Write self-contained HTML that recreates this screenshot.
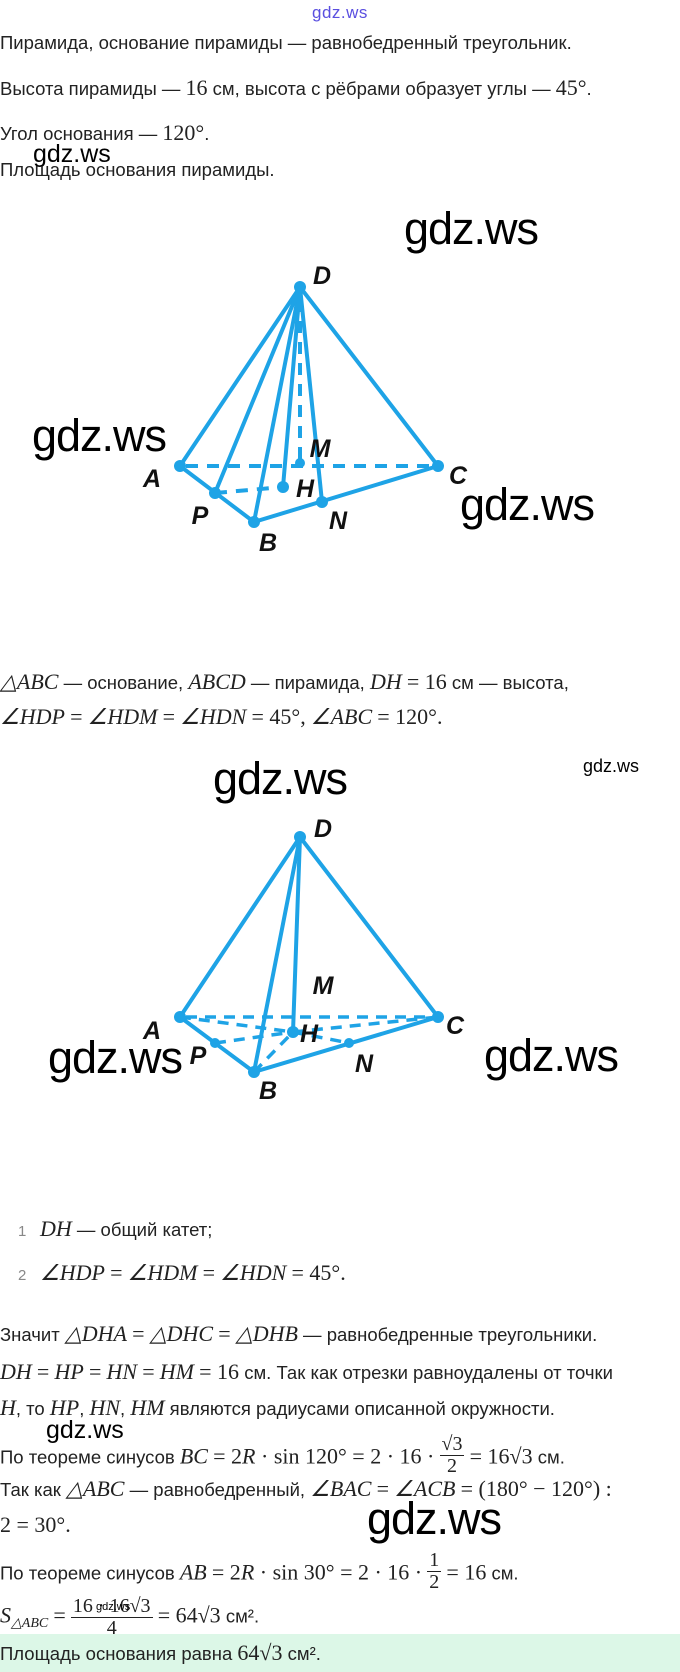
<!DOCTYPE html>
<html><head><meta charset="utf-8">
<style>
html,body{margin:0;padding:0;background:#fff;}
body{width:680px;height:1672px;position:relative;overflow:hidden;font-family:"Liberation Sans","DejaVu Sans",sans-serif;color:#222;}
.t{position:absolute;left:0;font-size:18.5px;line-height:22px;white-space:nowrap;}
.m{font-family:"Liberation Serif",serif;font-style:italic;font-size:22px;}
.r{font-family:"Liberation Serif",serif;font-size:22px;}
.w{position:absolute;font-family:"Liberation Sans",sans-serif;font-size:45px;line-height:50px;color:#000;letter-spacing:-1px;}
.ws{position:absolute;font-family:"Liberation Sans",sans-serif;font-size:18px;line-height:20px;color:#000;}
.fr{display:inline-block;vertical-align:middle;text-align:center;font-family:"Liberation Serif",serif;font-size:20px;line-height:21px;}
.fr span{display:block;}
.fr .n{border-bottom:1px solid #222;padding:0 2px;}
.num{color:#888;font-size:15px;display:inline-block;width:22px;}
</style></head><body>

<div style="position:absolute;left:312px;top:3px;font-size:17px;color:#5a4fe0;letter-spacing:0.5px;">gdz.ws</div>

<div class="t" style="top:32px">Пирамида, основание пирамиды — равнобедренный треугольник.</div>
<div class="t" style="top:77px">Высота пирамиды — <span class="r">16</span> см, высота с рёбрами образует углы — <span class="r">45°</span>.</div>
<div class="t" style="top:122px">Угол основания — <span class="r">120°</span>.</div>
<div class="ws" style="left:33px;top:141px;font-size:25px;line-height:26px;">gdz.ws</div>
<div class="t" style="top:159px">Площадь основания пирамиды.</div>

<div class="w" style="left:404px;top:204px">gdz.ws</div>
<div class="w" style="left:32px;top:411px">gdz.ws</div>
<div class="w" style="left:460px;top:480px">gdz.ws</div>

<svg style="position:absolute;left:0;top:0" width="680" height="1672">
<g stroke="#1ea3e6" stroke-width="4" fill="none" stroke-linecap="round">
<line x1="300" y1="287" x2="180" y2="466"/>
<line x1="300" y1="287" x2="438" y2="466"/>
<line x1="300" y1="287" x2="215" y2="493"/>
<line x1="300" y1="287" x2="254" y2="522"/>
<line x1="300" y1="287" x2="283" y2="487"/>
<line x1="300" y1="287" x2="322" y2="502"/>
<line x1="180" y1="466" x2="254" y2="522"/>
<line x1="254" y1="522" x2="438" y2="466"/>
<g stroke-dasharray="12,9" stroke-linecap="butt">
<line x1="186" y1="466" x2="432" y2="466"/>
<line x1="300" y1="300" x2="300" y2="463"/>
<line x1="215" y1="493" x2="283" y2="487"/>
</g>
<line x1="300" y1="837" x2="180" y2="1017"/>
<line x1="300" y1="837" x2="438" y2="1017"/>
<line x1="300" y1="837" x2="254" y2="1072"/>
<line x1="300" y1="837" x2="293" y2="1032"/>
<line x1="180" y1="1017" x2="254" y2="1072"/>
<line x1="254" y1="1072" x2="438" y2="1017"/>
<g stroke-dasharray="11,8" stroke-linecap="butt" stroke-width="3.5">
<line x1="186" y1="1017" x2="432" y2="1017"/>
<line x1="180" y1="1017" x2="293" y2="1032"/>
<line x1="293" y1="1032" x2="438" y2="1017"/>
<line x1="215" y1="1043" x2="293" y2="1032"/>
<line x1="254" y1="1072" x2="293" y2="1032"/>
<line x1="293" y1="1032" x2="349" y2="1043"/>
</g>
</g>
<g fill="#1ea3e6">
<circle cx="300" cy="287" r="6"/><circle cx="180" cy="466" r="6"/><circle cx="438" cy="466" r="6"/>
<circle cx="215" cy="493" r="6"/><circle cx="254" cy="522" r="6"/><circle cx="322" cy="502" r="6"/>
<circle cx="283" cy="487" r="6"/><circle cx="300" cy="463" r="5"/>
<circle cx="300" cy="837" r="6"/><circle cx="180" cy="1017" r="6"/><circle cx="438" cy="1017" r="6"/>
<circle cx="215" cy="1043" r="5"/><circle cx="254" cy="1072" r="6"/><circle cx="349" cy="1043" r="5"/>
<circle cx="293" cy="1032" r="6"/>
</g>
<g font-family="Liberation Sans,sans-serif" font-style="italic" font-weight="bold" font-size="25" fill="#111" text-anchor="middle">
<text x="322" y="284">D</text><text x="320" y="457">M</text><text x="152" y="487">A</text>
<text x="305" y="497">H</text><text x="458" y="484">C</text><text x="200" y="524">P</text>
<text x="338" y="529">N</text><text x="268" y="551">B</text>
<text x="323" y="837">D</text><text x="323" y="994">M</text><text x="152" y="1039">A</text>
<text x="309" y="1042">H</text><text x="455" y="1034">C</text><text x="198" y="1064">P</text>
<text x="364" y="1072">N</text><text x="268" y="1099">B</text>
</g>
</svg>

<div class="t" style="top:671px"><span class="m">△ABC</span> — основание, <span class="m">ABCD</span> — пирамида, <span class="m">DH</span> <span class="r">= 16</span> см — высота,</div>
<div class="t" style="top:706px"><span class="m">∠HDP</span> <span class="r">=</span> <span class="m">∠HDM</span> <span class="r">=</span> <span class="m">∠HDN</span> <span class="r">= 45°,</span> <span class="m">∠ABC</span> <span class="r">= 120°.</span></div>

<div class="w" style="left:213px;top:754px">gdz.ws</div>
<div class="ws" style="left:583px;top:756px">gdz.ws</div>
<div class="w" style="left:48px;top:1033px">gdz.ws</div>
<div class="w" style="left:484px;top:1031px">gdz.ws</div>

<div class="t" style="top:1218px;left:18px"><span class="num">1</span><span class="m">DH</span> — общий катет;</div>
<div class="t" style="top:1262px;left:18px"><span class="num">2</span><span class="m">∠HDP</span> <span class="r">=</span> <span class="m">∠HDM</span> <span class="r">=</span> <span class="m">∠HDN</span> <span class="r">= 45°.</span></div>

<div class="t" style="top:1323px">Значит <span class="m">△DHA</span> <span class="r">=</span> <span class="m">△DHC</span> <span class="r">=</span> <span class="m">△DHB</span> — равнобедренные треугольники.</div>
<div class="t" style="top:1361px"><span class="m">DH</span> <span class="r">=</span> <span class="m">HP</span> <span class="r">=</span> <span class="m">HN</span> <span class="r">=</span> <span class="m">HM</span> <span class="r">= 16</span> см. Так как отрезки равноудалены от точки</div>
<div class="t" style="top:1397px"><span class="m">H</span>, то <span class="m">HP</span>, <span class="m">HN</span>, <span class="m">HM</span> являются радиусами описанной окружности.</div>
<div class="ws" style="left:46px;top:1417px;font-size:25px;line-height:26px;">gdz.ws</div>
<div class="t" style="top:1440px">По теореме синусов <span class="m">BC</span> <span class="r">= 2<i>R</i> · sin 120° = 2 · 16 ·</span> <span class="fr" style="margin-top:-6px"><span class="n">√3</span><span>2</span></span> <span class="r">= 16√3</span> см.</div>
<div class="t" style="top:1478px">Так как <span class="m">△ABC</span> — равнобедренный, <span class="m">∠BAC</span> <span class="r">=</span> <span class="m">∠ACB</span> <span class="r">= (180° − 120°) :</span></div>
<div class="t" style="top:1514px"><span class="r">2 = 30°.</span></div>
<div class="w" style="left:367px;top:1494px">gdz.ws</div>
<div class="t" style="top:1556px">По теореме синусов <span class="m">AB</span> <span class="r">= 2<i>R</i> · sin 30° = 2 · 16 ·</span> <span class="fr" style="margin-top:-6px"><span class="n">1</span><span>2</span></span> <span class="r">= 16</span> см.</div>
<div class="t" style="top:1596px"><span class="m">S</span><sub class="m" style="font-size:14px">△ABC</sub> <span class="r">=</span> <span class="fr"><span class="n">16 · 16√3</span><span>4</span></span> <span class="r">= 64√3</span> см².</div>
<div style="position:absolute;left:96px;top:1601px;font-size:11px;color:#000;">gdz.ws</div>

<div style="position:absolute;left:0;top:1634px;width:680px;height:38px;background:#dcf7e7;"></div>
<div class="t" style="top:1642px">Площадь основания равна <span class="r">64√3</span> см².</div>

</body></html>
